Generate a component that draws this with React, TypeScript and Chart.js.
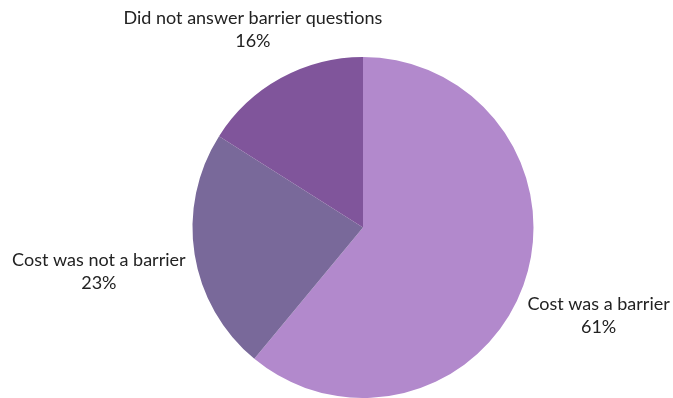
import React, { useEffect, useRef } from "react";
import { Chart, registerables } from "chart.js";

Chart.register(...registerables);

const categories = ["Cost was a barrier", "Cost was not a barrier", "Did not answer barrier questions"];
const values = [61, 23, 16];
const colors = ["#B289CC", "#79699A", "#80559B"];
// label offsets relative to the arc's outer mid-point: [dx, dy, align]
const labelOffsets: [number, number, CanvasTextAlign][] = [
  [4, 30, "left"],
  [-9, 18, "right"],
  [-28, -48, "center"],
];

const labelPlugin = {
  id: "outerLabels",
  afterDraw(chart: any) {
    const ctx = chart.ctx;
    const meta = chart.getDatasetMeta(0);
    ctx.save();
    ctx.font = '18px Lato, "Open Sans", sans-serif';
    ctx.fillStyle = "#222222";
    ctx.textBaseline = "middle";
    meta.data.forEach((arc: any, i: number) => {
      const p = arc.getProps(["x", "y", "startAngle", "endAngle", "outerRadius"], true);
      const mid = (p.startAngle + p.endAngle) / 2;
      const ex = p.x + Math.cos(mid) * p.outerRadius;
      const ey = p.y + Math.sin(mid) * p.outerRadius;
      const [dx, dy, align] = labelOffsets[i];
      const lx = ex + dx;
      const ly = ey + dy;
      const lines = [categories[i], values[i] + "%"];
      ctx.textAlign = align;
      const w = ctx.measureText(lines[0]).width;
      lines.forEach((t, j) => {
        let x = lx;
        if (j === 1) {
          if (align === "left") x = lx + w / 2;
          else if (align === "right") x = lx - w / 2;
          ctx.textAlign = "center";
        }
        ctx.fillText(t, x, ly - 11.5 + j * 23);
      });
    });
    ctx.restore();
  },
};

export default function App() {
  const ref = useRef<HTMLCanvasElement>(null);
  useEffect(() => {
    document.body.style.margin = "0";
    const chart = new Chart(ref.current!, {
      type: "pie",
      data: {
        labels: categories,
        datasets: [{ data: values, backgroundColor: colors, borderWidth: 0 }],
      },
      options: {
        responsive: false,
        animation: false,
        layout: { padding: { left: 192, right: 139, top: 57, bottom: 0 } },
        plugins: { legend: { display: false }, tooltip: { enabled: false } },
      },
      plugins: [labelPlugin],
    });
    return () => chart.destroy();
  }, []);
  return <canvas ref={ref} width={673} height={398} style={{ display: "block" }} />;
}
